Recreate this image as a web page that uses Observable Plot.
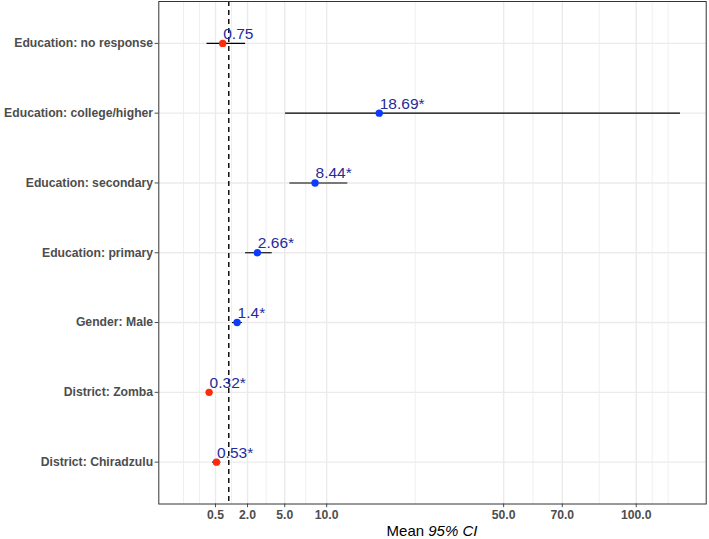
<!DOCTYPE html>
<html>
<head>
<meta charset="utf-8">
<script src="https://cdn.jsdelivr.net/npm/d3@7"></script>
<script src="https://cdn.jsdelivr.net/npm/@observablehq/plot@0.6"></script>
<style>
  body { margin: 0; background: #fff; }
  #chart svg { font-family: "Liberation Sans", Arial, Helvetica, sans-serif; }
</style>
</head>
<body>
<div id="chart"></div>
<script>
const labels = [
  "Education: no response",
  "Education: college/higher",
  "Education: secondary",
  "Education: primary",
  "Gender: Male",
  "District: Zomba",
  "District: Chiradzulu"
];
const est = [0.75, 18.69, 8.44, 2.66, 1.4, 0.32, 0.53];
const lo  = [0.27, 5.08, 5.52, 1.88, 1.17, 0.26, 0.41];
const hi  = [1.88, 120.5, 13.17, 3.84, 1.69, 0.39, 0.68];
const valueText = ["0.75", "18.69*", "8.44*", "2.66*", "1.4*", "0.32*", "0.53*"];

const majorTicks = [0.5, 2, 5, 10, 50, 70, 100];
const minorBreaks = [0, 0.125, 1.125, 3.33, 7.29, 26.2, 59.6, 84.3, 107.2, 114.6];

const data = labels.map((l, i) => ({label: l, est: est[i], lo: lo[i], hi: hi[i], txt: valueText[i]}));

const W = 709, H = 539;
const mL = 158.3, mR = 3.3, mT = 1, mB = 35.5;

const plot = Plot.plot({
  width: W,
  height: H,
  marginLeft: mL,
  marginRight: mR,
  marginTop: mT,
  marginBottom: mB,
  style: {fontFamily: "Liberation Sans, Arial, Helvetica, sans-serif", background: "#fff"},
  x: {type: "sqrt", domain: [-0.298, 133.3]},
  y: {type: "point", domain: labels, padding: 0.6, round: false},
  marks: [
    Plot.ruleX(minorBreaks, {stroke: "#EBEBEB", strokeWidth: 0.8}),
    Plot.ruleX(majorTicks, {stroke: "#EBEBEB", strokeWidth: 1.4}),
    Plot.ruleY(labels, {y: d => d, stroke: "#EBEBEB", strokeWidth: 1.4}),
    Plot.ruleX([1], {stroke: "#000", strokeWidth: 1.4, strokeDasharray: "5,4"}),
    Plot.ruleY(data, {y: "label", x1: "lo", x2: "hi", stroke: "#000", strokeWidth: 1.1}),
    Plot.dot(data, {x: "est", y: "label", r: 3.7, fill: d => d.est < 1 ? "#FF2A0A" : "#0B3BFF", stroke: "none"}),
    Plot.text(data, {x: "est", y: "label", text: "txt", textAnchor: "start", dx: 0.5, dy: -9.5, fontSize: 15.5, fill: "#1F2C9C"}),
    Plot.axisX(majorTicks, {tickSize: 3.7, tickPadding: 3, tickFormat: d3.format(".1f"), fontSize: 12.2, fontWeight: "bold", color: "#4D4D4D", label: null}),
    Plot.axisY({tickSize: 3.7, tickPadding: 2, fontSize: 12.2, fontWeight: "bold", color: "#4D4D4D", label: null}),
    Plot.frame({stroke: "#333333", strokeWidth: 1})
  ]
});

document.getElementById("chart").appendChild(plot);

// axis title with italic part
const svg = d3.select(plot);
const t = svg.append("text")
  .attr("x", mL + (W - mL - mR) / 2)
  .attr("y", H - 3)
  .attr("text-anchor", "middle")
  .attr("font-size", 15)
  .attr("fill", "#000");
t.append("tspan").text("Mean ");
t.append("tspan").attr("font-style", "italic").text("95% CI");
</script>
</body>
</html>
